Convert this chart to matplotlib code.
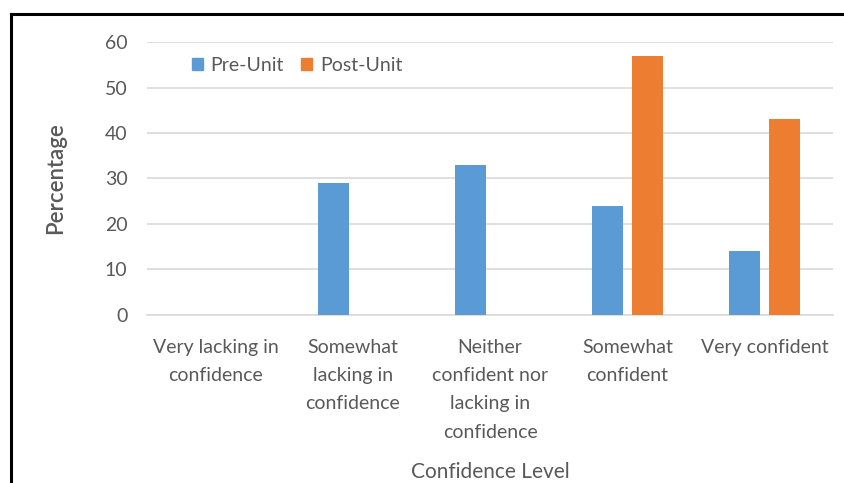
import matplotlib
matplotlib.use("Agg")
import matplotlib.pyplot as plt
import numpy as np
from matplotlib.lines import Line2D
from matplotlib.patches import Patch

categories = ["Very lacking in\nconfidence", "Somewhat\nlacking in\nconfidence",
              "Neither\nconfident nor\nlacking in\nconfidence", "Somewhat\nconfident",
              "Very confident"]
pre_unit = [0, 29, 33, 24, 14]
post_unit = [0, 0, 0, 57, 43]
yticks = [0, 10, 20, 30, 40, 50, 60]

plt.rcParams['font.family'] = ['Lato', 'DejaVu Sans']
blue = "#5b9bd5"
orange = "#ed7d31"
txt = "#595959"

fig = plt.figure(figsize=(8.45, 4.83), dpi=100)
ax = fig.add_axes([0.174, 0.348, 0.812, 0.565])
x = np.arange(len(categories))
w = 0.226
ax.bar(x - 0.144, pre_unit, w, color=blue, label="Pre-Unit", zorder=3)
ax.bar(x + 0.144, post_unit, w, color=orange, label="Post-Unit", zorder=3)

ax.set_xlim(-0.5, len(categories) - 0.5)
ax.set_ylim(0, 60)
ax.set_yticks(yticks)
ax.yaxis.grid(True, color="#d9d9d9", linewidth=1.2, zorder=0)
for s in ["top", "right", "left"]:
    ax.spines[s].set_visible(False)
ax.spines["bottom"].set_color("#d9d9d9")
ax.spines["bottom"].set_linewidth(1.2)
ax.tick_params(axis="both", length=0, colors=txt, labelsize=14)
ax.tick_params(axis="y", pad=14)
ax.tick_params(axis="x", pad=17)
ax.set_xticks(x)
ax.set_xticklabels(categories, linespacing=1.82)
ax.set_ylabel("Percentage", color=txt, fontsize=16, labelpad=28, fontweight="semibold")
ax.set_xlabel("Confidence Level", color=txt, fontsize=15, labelpad=15)

handles = [Patch(color=blue, label="Pre-Unit"), Patch(color=orange, label="Post-Unit")]
ax.legend(handles=handles, loc="center left", bbox_to_anchor=(0.04, 0.915), ncol=2,
          frameon=False, fontsize=14, handlelength=0.55, handleheight=0.55,
          handletextpad=0.4, columnspacing=0.9, labelcolor=txt)

fig.add_artist(Line2D([0.0136, 1.0], [0.972, 0.972], transform=fig.transFigure, color="black", linewidth=2.2))
fig.add_artist(Line2D([0.0136, 0.0136], [0.0, 0.972], transform=fig.transFigure, color="black", linewidth=2.2))

fig.savefig("out.png", dpi=100)
